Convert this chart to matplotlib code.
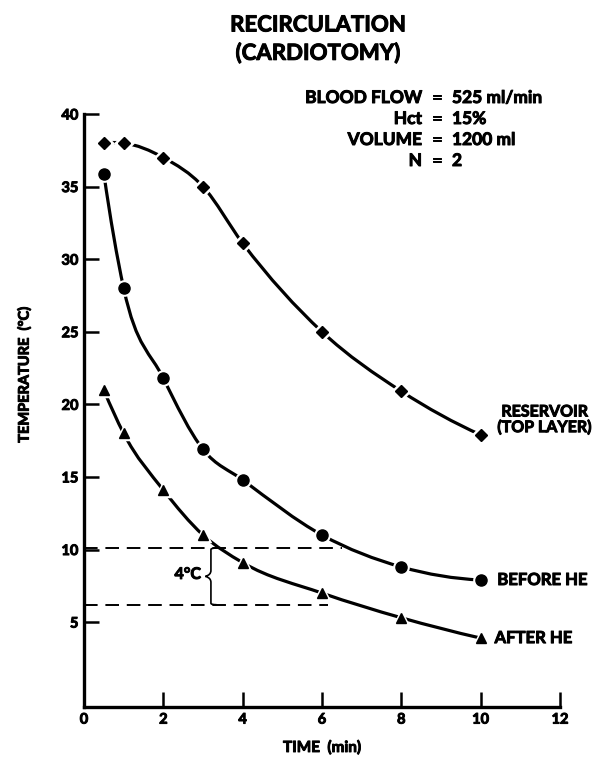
import numpy as np
import matplotlib
matplotlib.use("Agg")
import matplotlib.pyplot as plt
import matplotlib.patheffects as pe
from matplotlib.path import Path
from matplotlib.patches import PathPatch

# ---- data ----
time_min = [0.5, 1, 2, 3, 4, 6, 8, 10]
reservoir = [38.0, 38.0, 37.0, 35.0, 31.1, 25.0, 20.9, 17.9]
before_he = [35.9, 28.0, 21.8, 16.9, 14.8, 11.0, 8.8, 7.9]
after_he = [21.0, 18.0, 14.1, 11.0, 9.1, 7.0, 5.3, 3.9]

x_ticks = [0, 2, 4, 6, 8, 10, 12]
y_ticks = [5, 10, 15, 20, 25, 30, 35, 40]

dash_upper = 10.1
dash_lower = 6.2

info_keys = ["BLOOD FLOW", "Hct", "VOLUME", "N"]
info_vals = ["525 ml/min", "15%", "1200 ml", "2"]

plt.rcParams["font.family"] = ["Lato", "DejaVu Sans"]
plt.rcParams["font.weight"] = "bold"
HEAVY = [pe.withStroke(linewidth=0.7, foreground="black")]


def smooth_path(xs, ys):
    # cubic hermite pieces drawn as bezier segments
    x = np.asarray(xs, float)
    y = np.asarray(ys, float)
    h = np.diff(x)
    d = np.diff(y) / h
    m = np.zeros_like(y)
    m[0] = ((2 * h[0] + h[1]) * d[0] - h[0] * d[1]) / (h[0] + h[1])
    m[-1] = ((2 * h[-1] + h[-2]) * d[-1] - h[-1] * d[-2]) / (h[-1] + h[-2])
    for i in range(1, len(x) - 1):
        m[i] = (h[i] * d[i - 1] + h[i - 1] * d[i]) / (h[i - 1] + h[i])
    verts = [(x[0], y[0])]
    codes = [Path.MOVETO]
    for i in range(len(x) - 1):
        verts += [(x[i] + h[i] / 3, y[i] + m[i] * h[i] / 3),
                  (x[i + 1] - h[i] / 3, y[i + 1] - m[i + 1] * h[i] / 3),
                  (x[i + 1], y[i + 1])]
        codes += [Path.CURVE4] * 3
    return Path(verts, codes)


fig = plt.figure(figsize=(6, 7.57), dpi=100)
ax = fig.add_axes([0.14, 0.066, 0.7933, 0.7834])

for ys, mk, ms in [(reservoir, "D", 8), (before_he, "o", 9.5), (after_he, "^", 8.5)]:
    ax.add_patch(PathPatch(smooth_path(time_min, ys), fill=False,
                           lw=2.3, color="black", capstyle="butt", zorder=2))
    ax.plot(time_min, ys, linestyle="none", marker=mk, ms=ms, color="black",
            mec="white", mew=2.5, zorder=3)
    ax.plot(time_min, ys, linestyle="none", marker=mk, ms=ms - 1.5,
            color="black", zorder=4)

# dashed reference lines and brace
ax.plot([0, 6.5], [dash_upper, dash_upper], color="black", lw=1.4,
        dashes=(7, 4), zorder=1)
ax.plot([0, 6.15], [dash_lower, dash_lower], color="black", lw=1.4,
        dashes=(7, 4), zorder=1)

bx, bw = 3.2, 0.14
ym = (dash_upper + dash_lower) / 2
brace = Path([(bx + bw, dash_upper), (bx, dash_upper), (bx, dash_upper - 0.1),
              (bx, ym + 0.4), (bx, ym + 0.1), (bx - bw, ym),
              (bx, ym - 0.1), (bx, ym - 0.4), (bx, dash_lower + 0.1),
              (bx, dash_lower), (bx + bw, dash_lower)],
             [Path.MOVETO, Path.CURVE3, Path.CURVE3,
              Path.LINETO, Path.CURVE3, Path.CURVE3,
              Path.CURVE3, Path.CURVE3, Path.LINETO,
              Path.CURVE3, Path.CURVE3])
ax.add_patch(PathPatch(brace, fill=False, lw=1.2, color="black"))

texts = []
texts.append(ax.text(bx - 0.25, ym + 0.1, "4°C", ha="right", va="center",
                     fontsize=11.5))

# series labels
texts.append(ax.text(10.42, 18.9, "RESERVOIR\n(TOP LAYER)", ha="left",
                     va="center", fontsize=11.5, multialignment="center",
                     linespacing=1.1))
texts.append(ax.text(10.42, 7.9, "BEFORE HE", ha="left", va="center",
                     fontsize=12))
texts.append(ax.text(10.35, 3.9, "AFTER HE", ha="left", va="center",
                     fontsize=12))

ax.set_xlim(0, 12)
ax.set_ylim(-0.85, 40)
ax.set_xticks(x_ticks)
ax.set_yticks(y_ticks)
ax.tick_params(direction="in", length=11, width=1.8, labelsize=10.5, pad=4)
texts += ax.get_xticklabels() + ax.get_yticklabels()
ax.spines["top"].set_visible(False)
ax.spines["right"].set_visible(False)
ax.spines["left"].set_linewidth(2.4)
ax.spines["bottom"].set_linewidth(2.4)

texts.append(ax.set_xlabel("TIME  (min)", fontsize=11, labelpad=10))
texts.append(ax.set_ylabel("TEMPERATURE  (°C)", fontsize=10.5))
ax.yaxis.set_label_coords(-0.11, 0.56)

# title and conditions
texts.append(fig.text(0.53, 1 - 25 / 757, "RECIRCULATION", ha="center",
                      va="center", fontsize=16))
texts.append(fig.text(0.53, 1 - 53 / 757, "(CARDIOTOMY)", ha="center",
                      va="center", fontsize=16))
for i, (k, v) in enumerate(zip(info_keys, info_vals)):
    yy = 1 - (98 + i * 21) / 757
    texts.append(fig.text(422 / 600, yy, k, ha="right", va="center",
                          fontsize=12.5))
    texts.append(fig.text(437 / 600, yy, "=", ha="center", va="center",
                          fontsize=12.5))
    texts.append(fig.text(452 / 600, yy, v, ha="left", va="center",
                          fontsize=12.5))

for t in texts:
    t.set_fontweight("bold")
    t.set_path_effects(HEAVY)

fig.savefig("out.png", dpi=100)
